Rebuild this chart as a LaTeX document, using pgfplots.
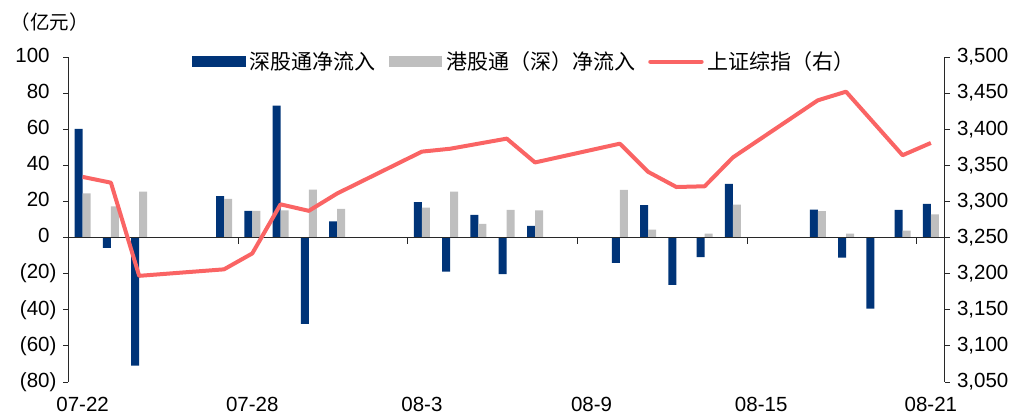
\documentclass[border=0pt]{standalone}
\usepackage{pgfplots}
\pgfplotsset{compat=1.18}
\usepackage{fontspec}
\setmainfont{Liberation Sans}
\newfontfamily\cjk{Noto Sans CJK SC}
\definecolor{szblue}{RGB}{0,52,120}
\definecolor{hkgray}{RGB}{191,191,191}
\definecolor{idxred}{RGB}{250,100,100}
\definecolor{axgray}{RGB}{40,40,40}
\begin{document}
\begin{tikzpicture}
\useasboundingbox (-34.25pt,-18.5pt) rectangle (483.25pt,191pt);
\pgfplotsset{
  base/.style={
    at={(0pt,0pt)}, anchor=south west,
    scale only axis, width=438.25pt, height=162.5pt,
    xmin=0, xmax=31,
    tick align=outside, major tick length=2.5pt,
    axis line style={axgray, line width=0.5pt},
    tick style={axgray, line width=0.5pt},
    tick label style={font=\fontsize{10.25pt}{12pt}\selectfont, text=black},
    /pgf/number format/assume math mode=true,
    clip=false,
  }
}
\begin{axis}[base,
  ymin=-80, ymax=100,
  axis x line*=bottom, axis y line*=left,
  x axis line style={draw=none},
  xtick={0.5,6.5,12.5,18.5,24.5,30.5},
  xticklabels={07-22,07-28,08-3,08-9,08-15,08-21},
  xticklabel style={yshift=-1.5pt},
  xtick style={draw=none},
  ytick={-80,-60,-40,-20,0,20,40,60,80,100},
  yticklabels={(80),(60),(40),(20),0\phantom{)},20\phantom{)},40\phantom{)},60\phantom{)},80\phantom{)},100\phantom{)}},
]
\addplot[ybar, bar width=4pt, bar shift=-2pt, fill=szblue, draw=none] table {
x y
0.5 60.2
1.5 -5.7
2.5 -70.9
5.5 22.9
6.5 14.8
7.5 73.1
8.5 -47.8
9.5 8.9
12.5 19.6
13.5 -18.8
14.5 12.6
15.5 -20.3
16.5 6.5
19.5 -14.0
20.5 17.9
21.5 -26.2
22.5 -10.9
23.5 29.7
26.5 15.5
27.5 -11.1
28.5 -39.3
29.5 15.3
30.5 18.6
};
\addplot[ybar, bar width=4pt, bar shift=2pt, fill=hkgray, draw=none] table {
x y
0.5 24.5
1.5 17.3
2.5 25.5
5.5 21.4
6.5 14.8
7.5 15.1
8.5 26.6
9.5 15.9
12.5 16.6
13.5 25.5
14.5 7.6
15.5 15.3
16.5 15.1
19.5 26.4
20.5 4.4
21.5 0
22.5 2.2
23.5 18.3
26.5 14.6
27.5 2.2
28.5 0
29.5 3.9
30.5 12.9
};
\draw[axgray, line width=0.5pt] (axis cs:0,0) -- (axis cs:31,0);
\draw[axgray, line width=0.5pt] (axis cs:6,0) -- ++(0pt,-3pt);
\draw[axgray, line width=0.5pt] (axis cs:12,0) -- ++(0pt,-3pt);
\draw[axgray, line width=0.5pt] (axis cs:18,0) -- ++(0pt,-3pt);
\draw[axgray, line width=0.5pt] (axis cs:24,0) -- ++(0pt,-3pt);
\draw[axgray, line width=0.5pt] (axis cs:30,0) -- ++(0pt,-3pt);
\end{axis}
\begin{axis}[base,
  ymin=3050, ymax=3500,
  axis x line=none, axis y line*=right,
  ytick={3050,3100,3150,3200,3250,3300,3350,3400,3450,3500},
  /pgf/number format/1000 sep={,},
  legend columns=3,
  legend cell align=left,
  legend style={draw=none, fill=none, at={(0.1412,0.9855)}, anchor=west,
    inner sep=0pt, outer sep=0pt,
    font=\cjk\fontsize{10.5pt}{12pt}\selectfont,
    /tikz/every even column/.append style={column sep=4.5pt}},
]
\addlegendimage{legend image code/.code={\fill[szblue] (0pt,-2.5pt) rectangle (26.35pt,2.5pt);}}
\addlegendentry{深股通净流入}
\addlegendimage{legend image code/.code={\fill[hkgray] (0pt,-2.5pt) rectangle (26.35pt,2.5pt);}}
\addlegendentry{港股通（深）净流入}
\addlegendimage{legend image code/.code={\draw[idxred, line width=2pt, line cap=round] (0.5pt,0pt) -- (26.2pt,0pt);}}
\addlegendentry{上证综指（右）}
\addplot[idxred, line width=2pt, line join=round, forget plot] table {
x y
0.5 3334
1.5 3326
2.5 3197
5.5 3206
6.5 3228
7.5 3296
8.5 3287
9.5 3311
12.5 3369
13.5 3373
14.5 3380
15.5 3387
16.5 3354
19.5 3380
20.5 3341
21.5 3320
22.5 3321
23.5 3361
26.5 3440
27.5 3452
28.5 3408
29.5 3364
30.5 3381
};
\end{axis}
\node[font=\cjk\fontsize{9.75pt}{12pt}\selectfont] at (-9.25pt,180pt) {（亿元）};
\end{tikzpicture}
\end{document}
